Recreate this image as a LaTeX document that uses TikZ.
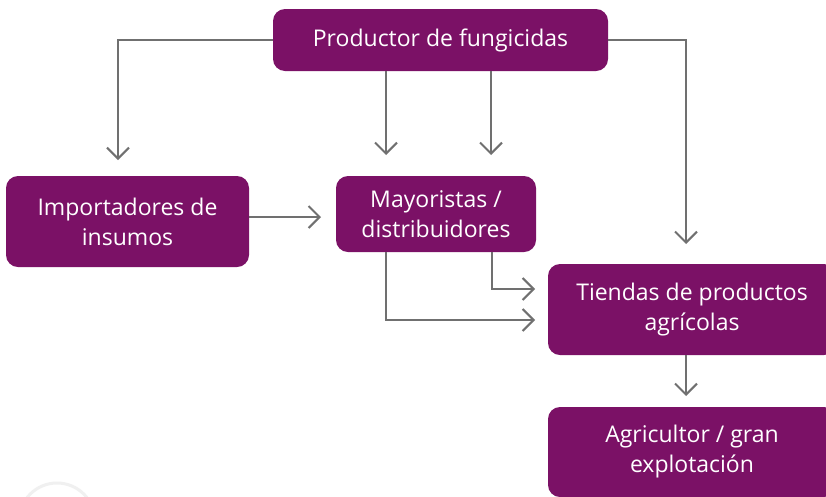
\documentclass[tikz,border=0pt]{standalone}
\usepackage{fontspec}
\setmainfont{Open Sans}
\usetikzlibrary{arrows.meta}
\definecolor{boxpurple}{RGB}{123,17,102}
\definecolor{linegray}{RGB}{112,112,112}
\tikzset{
  box/.style={fill=boxpurple, rounded corners=12pt, text=white, align=center,
    font=\fontsize{23}{30}\selectfont, inner sep=0pt},
  arr/.style={draw=linegray, line width=2pt,
    -{Straight Barb[length=11pt,width=22pt,line width=2pt]}},
}
\begin{document}
\begin{tikzpicture}[x=1pt,y=-1pt]
\clip (0,0) rectangle (826,496);
\fill[white] (0,0) rectangle (826,496);
\draw[gray!12, line width=3pt] (57,521) circle[radius=38];
\node[box, minimum width=335pt, minimum height=62pt] (prod) at (440.5,40) {Productor de fungicidas};
\node[box, minimum width=243pt, minimum height=91pt] (imp) at (127.5,221.5) {Importadores de\\insumos};
\node[box, minimum width=200pt, minimum height=76pt] (may) at (436,214) {Mayoristas /\\distribuidores};
\node[box, minimum width=288pt, minimum height=91pt] (tie) at (692,309.5) {Tiendas de productos\\agrícolas};
\node[box, minimum width=288pt, minimum height=90pt] (agr) at (692,452) {Agricultor / gran\\explotación};
\coordinate (c1) at (118,160);
\coordinate (c2) at (686,244);
\coordinate (c3) at (386,155);
\coordinate (c4) at (491,155);
\coordinate (c5) at (321,217);
\coordinate (c6) at (535,289);
\coordinate (c7) at (535,320);
\coordinate (c8) at (686,396);
\coordinate (c9) at (492,0);
\coordinate (c10) at (386,0);
\draw[arr] (prod.west) -| (c1);
\draw[arr] (prod.east) -| (c2);
\draw[arr] (c3 |- prod.south) -- (c3);
\draw[arr] (c4 |- prod.south) -- (c4);
\draw[arr] (imp.east |- c5) -- (c5);
\draw[arr] (c9 |- may.south) |- (c6);
\draw[arr] (c10 |- may.south) |- (c7);
\draw[arr] (c8 |- tie.south) -- (c8);
\end{tikzpicture}
\end{document}
